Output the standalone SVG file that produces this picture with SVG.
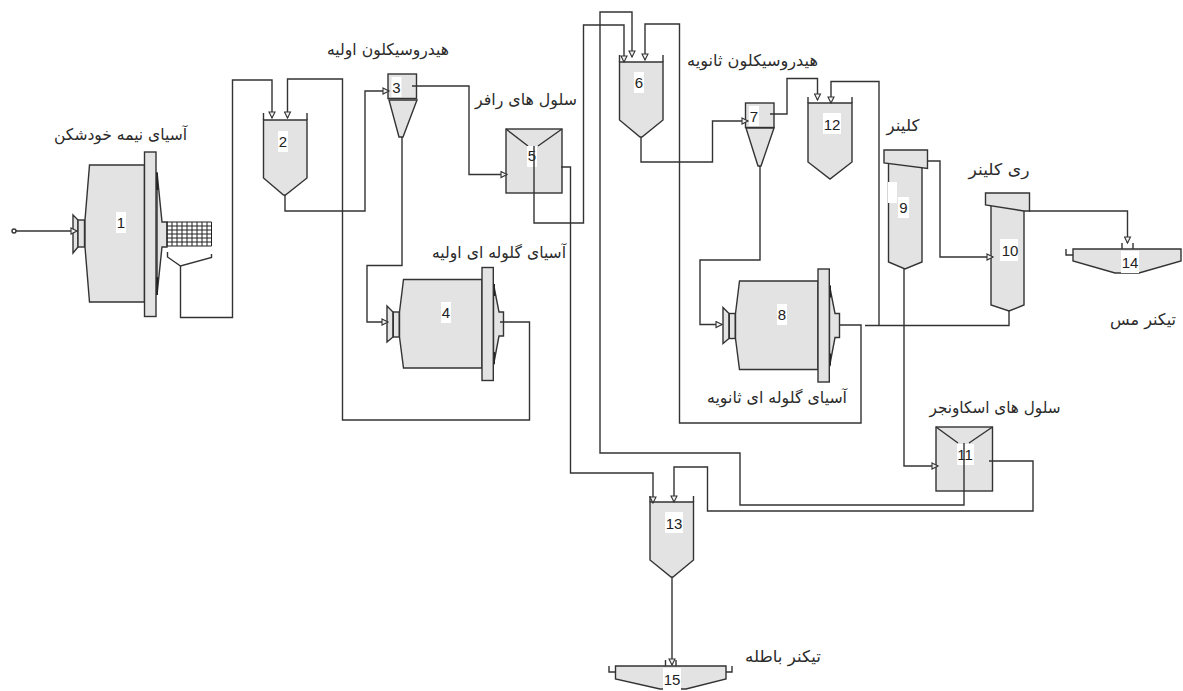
<svg xmlns="http://www.w3.org/2000/svg" width="1183" height="691" viewBox="0 0 1183 691">
<style>
.n{fill:#e3e3e3;stroke:#333;stroke-width:1.4;stroke-linejoin:miter}
.o{fill:none;stroke:#333;stroke-width:1.4}
.c{fill:none;stroke:#333;stroke-width:1.4;marker-end:url(#a)}
.p{fill:none;stroke:#333;stroke-width:1.4}
.g{fill:none;stroke:#222;stroke-width:1}
.b{fill:#fff}
.t{font-family:"Liberation Sans",Arial,sans-serif;font-size:15px;fill:#222;text-anchor:middle}
.l{font-family:"DejaVu Sans",sans-serif;font-size:16px;fill:#2b2b2b;text-anchor:middle;direction:rtl}
</style>
<defs>
<marker id="a" markerUnits="userSpaceOnUse" markerWidth="9" markerHeight="8" refX="7" refY="4" orient="auto">
<path d="M1,1 L7,4 L1,7Z" fill="#f2f2f2" stroke="#333" stroke-width="1.1"/>
</marker>
<g id="ballmill">
<path class="n" d="M387,306L393,312V337L387,342Z"/>
<rect class="n" x="393.3" y="312" width="6" height="25"/>
<path class="n" d="M403.5,279.5L399.5,312V337L403.5,368H482V279.5Z"/>
<path class="n" d="M493.5,284L499,312H503.5V336H499L493.5,365Z"/>
<path d="M494,284V296M494,352V364" stroke="#222" stroke-width="2" fill="none"/>
<rect class="n" x="482" y="267.5" width="11.3" height="113"/>
</g>
</defs>

<g id="node-1">
<path class="n" d="M73,215L78,220V247L73,253Z"/>
<rect class="n" x="78" y="220" width="6.5" height="27"/>
<path class="n" d="M89.5,165L85,220V247L89.5,302H144.5V165Z"/>
<path class="n" d="M157,172L162,222H167V247H162L157,295Z"/>
<path d="M157,173V190M157,277V295" stroke="#222" stroke-width="2" fill="none"/>
<rect class="n" x="144.5" y="152" width="11.5" height="164.5"/>
<path class="g" d="M167,222H211.5V246H167ZM167,226H211.5M167,230H211.5M167,234H211.5M167,238H211.5M167,242H211.5M172,222V246M177,222V246M182,222V246M187,222V246M192,222V246M197,222V246M202,222V246M207,222V246"/>
<path class="o" d="M167.5,252V257L180.5,266L211.5,257.5V254"/>
<rect class="b" x="116" y="212" width="10" height="21"/>
<text class="t" x="121" y="228">1</text>
</g>
<g id="node-2">
<path class="n" d="M263.5,120H307V178L285.5,195H283.5L263.5,178Z"/>
<path class="o" d="M263.5,113V120M307,113V120"/>
<rect class="b" x="278" y="131" width="10" height="21"/>
<text class="t" x="283" y="147">2</text>
</g>
<g id="node-3">
<rect class="n" x="388" y="74" width="28.5" height="24.5"/>
<path class="n" d="M389,100H417L403,137H399Z"/>
<rect class="b" x="391.500" y="77" width="10" height="20"/>
<text class="t" x="396.500" y="92.500">3</text>
</g>
<g id="node-4">
<use href="#ballmill"/>
<rect class="b" x="441" y="302" width="10" height="21"/>
<text class="t" x="446" y="318">4</text>
</g>
<g id="node-5">
<rect class="n" x="506" y="129" width="56" height="64"/>
<path class="o" d="M506,129L528,146M562,129L538,146"/>
<rect class="b" x="527" y="146" width="10" height="21"/>
<text class="t" x="532" y="161">5</text>
</g>
<g id="node-6">
<path class="n" d="M619.500,62H663V120L642,137H640L619.500,120Z"/>
<path class="o" d="M619.500,55V62M663,55V62"/>
<rect class="b" x="634" y="72" width="10" height="21"/>
<text class="t" x="639" y="88">6</text>
</g>
<g id="node-7">
<rect class="n" x="745.500" y="103" width="28.500" height="24.500"/>
<path class="n" d="M746,128H774L761,166H758Z"/>
<rect class="b" x="749" y="106" width="10" height="20"/>
<text class="t" x="754" y="121.500">7</text>
</g>
<g id="node-8">
<use href="#ballmill" transform="translate(336,1.500)"/>
<rect class="b" x="777" y="304" width="10" height="21"/>
<text class="t" x="782" y="320">8</text>
</g>
<g id="node-9">
<path class="n" d="M888.500,163V262L905,269L922,262V168"/>
<path class="n" d="M884,150H927.500V168.500L884,163Z"/>
<rect class="b" x="888" y="182" width="9" height="21"/>
<rect class="b" x="898" y="197" width="11" height="21"/>
<text class="t" x="903.500" y="213">9</text>
</g>
<g id="node-10">
<path class="n" d="M991,206V305L1009,311L1024,305V211"/>
<path class="n" d="M985.500,193H1029.500V211L1024,211L985.500,205Z"/>
<rect class="b" x="1000" y="239" width="18" height="22"/>
<text class="t" x="1010" y="255.500">10</text>
</g>
<g id="node-11">
<rect class="n" x="936" y="427" width="56.500" height="64"/>
<path class="o" d="M936,427L958,443M992.500,427L969,443"/>
<rect class="b" x="957" y="444" width="17" height="21"/>
<text class="t" x="965" y="460">11</text>
</g>
<g id="node-12">
<path class="n" d="M808,103H852V162L830,179L808,162Z"/>
<path class="o" d="M808,97V103M852,97V103"/>
<rect class="b" x="823" y="113" width="18" height="21"/>
<text class="t" x="832" y="129.500">12</text>
</g>
<g id="node-13">
<path class="n" d="M650,502H693.500V560L673,577H671L650,560Z"/>
<path class="o" d="M650,496V502M693.500,496V502"/>
<rect class="b" x="665" y="512" width="18" height="21"/>
<text class="t" x="674" y="528.500">13</text>
</g>
<g id="node-14">
<path class="n" d="M1073,249H1181V261L1139,273H1115L1073,261Z"/>
<path class="o" d="M1066,249V255H1073M1122,243V249M1133,243V249"/>
<rect class="b" x="1121" y="251" width="18" height="22"/>
<text class="t" x="1130" y="268">14</text>
</g>
<g id="node-15">
<path class="n" d="M615.500,666H726V679L686,689H660L615.500,679Z"/>
<path class="o" d="M609,666V672H615.500M732,666V672H726M665.500,660V666M676,660V666"/>
<rect class="b" x="663" y="668" width="18" height="22"/>
<text class="t" x="672" y="685">15</text>
</g>

<g id="connectors">
<circle cx="14" cy="231" r="2" fill="none" stroke="#333" stroke-width="1.400"/>
<path class="c" d="M16,231H77"/>
<path class="c" d="M180.500,266V317.500H232.500V80H272V118"/>
<path class="c" d="M285,195V211H365V91H389"/>
<path class="c" d="M402,137V265.500H367V322H388"/>
<path class="c" d="M500,322H529.500V420H342.500V79H287.500V118"/>
<path class="c" d="M412,86H469V174.500H507"/>
<path class="c" d="M534,146V223H583.500V25H624V62"/>
<path class="c" d="M561,167H570.500V473H653V503"/>
<path class="c" d="M964,443V505H740V453H600V12H632V57"/>
<path class="c" d="M839,325H861V423H679.500V24H645V60"/>
<path class="c" d="M641,137V162H712.500V121H748"/>
<path class="c" d="M770,114H787V78.500H817.500V100"/>
<path class="c" d="M760,166V260H700V324.500H722"/>
<path class="p" d="M865,325.500H1009V311"/>
<path class="c" d="M879,325V81.500H831V103"/>
<path class="c" d="M927,161H940V257H993"/>
<path class="c" d="M1029,211H1127.500V243"/>
<path class="c" d="M904,269V466H938"/>
<path class="c" d="M989,461H1033V511H707.500V467H674V502"/>
<path class="c" d="M672,577V665"/>
</g>

<g id="labels">
<text class="l" x="120.500" y="140" textLength="133" lengthAdjust="spacingAndGlyphs">آسیای نیمه خودشکن</text>
<text class="l" x="388" y="55" textLength="122" lengthAdjust="spacingAndGlyphs">هیدروسیکلون اولیه</text>
<text class="l" x="526" y="105" textLength="102" lengthAdjust="spacingAndGlyphs">سلول های رافر</text>
<text class="l" x="752.500" y="66" textLength="131" lengthAdjust="spacingAndGlyphs">هیدروسیکلون ثانویه</text>
<text class="l" x="499" y="258" textLength="134" lengthAdjust="spacingAndGlyphs">آسیای گلوله ای اولیه</text>
<text class="l" x="777" y="403" textLength="140" lengthAdjust="spacingAndGlyphs">آسیای گلوله ای ثانویه</text>
<text class="l" x="903" y="131" textLength="33" lengthAdjust="spacingAndGlyphs">کلینر</text>
<text class="l" x="999" y="175" textLength="61" lengthAdjust="spacingAndGlyphs">ری کلینر</text>
<text class="l" x="1143" y="325" textLength="66" lengthAdjust="spacingAndGlyphs">تیکنر مس</text>
<text class="l" x="995" y="413" textLength="131" lengthAdjust="spacingAndGlyphs">سلول های اسکاونجر</text>
<text class="l" x="783" y="662" textLength="76" lengthAdjust="spacingAndGlyphs">تیکنر باطله</text>
</g>
</svg>
